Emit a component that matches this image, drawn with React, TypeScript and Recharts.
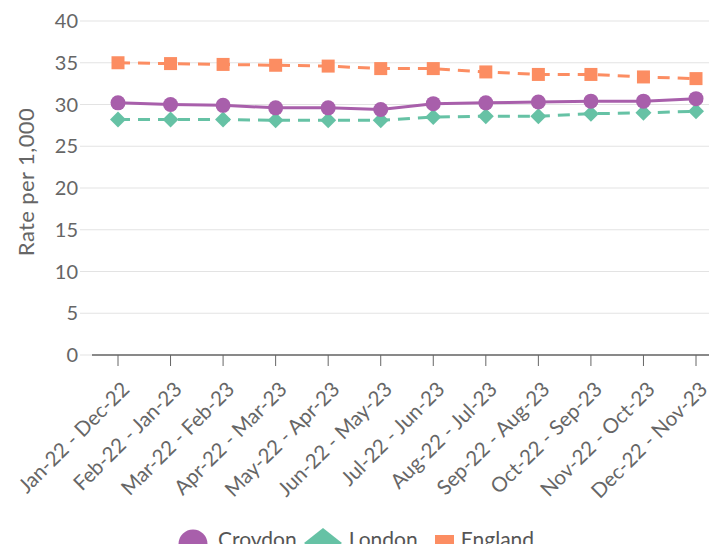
import { LineChart, Line, XAxis, YAxis, CartesianGrid } from "recharts";

const periods = [
  "Jan-22 - Dec-22",
  "Feb-22 - Jan-23",
  "Mar-22 - Feb-23",
  "Apr-22 - Mar-23",
  "May-22 - Apr-23",
  "Jun-22 - May-23",
  "Jul-22 - Jun-23",
  "Aug-22 - Jul-23",
  "Sep-22 - Aug-23",
  "Oct-22 - Sep-23",
  "Nov-22 - Oct-23",
  "Dec-22 - Nov-23",
];

const croydon = [30.2, 30.0, 29.9, 29.6, 29.6, 29.4, 30.1, 30.2, 30.3, 30.4, 30.4, 30.7];
const london = [28.2, 28.2, 28.2, 28.1, 28.1, 28.1, 28.5, 28.6, 28.6, 28.9, 29.0, 29.2];
const england = [35.0, 34.9, 34.8, 34.7, 34.6, 34.3, 34.3, 33.9, 33.6, 33.6, 33.3, 33.1];

const yTicks = [0, 5, 10, 15, 20, 25, 30, 35, 40];

const COLORS = {
  croydon: "#a85fab",
  london: "#66c2a5",
  england: "#fc8d62",
  text: "#666666",
  grid: "#e3e3e3",
};

const FONT = "Lato, 'Open Sans', sans-serif";

const data = periods.map((period, i) => ({
  period,
  croydon: croydon[i],
  london: london[i],
  england: england[i],
}));

interface TickProps {
  x?: number;
  y?: number;
  payload?: { value: string };
}

const XTick = ({ x = 0, y = 0, payload }: TickProps) => (
  <g transform={`translate(${x + 2},${y + 12})`}>
    <text
      x={0}
      y={0}
      dy={15}
      textAnchor="end"
      fill={COLORS.text}
      fontSize={20.5}
      fontFamily={FONT}
      transform="rotate(-45)"
    >
      {payload?.value}
    </text>
  </g>
);

// y axis title, placed by hand like the original
const YTitle = () => (
  <text
    x={25}
    y={182}
    transform="rotate(-90, 25, 182)"
    textAnchor="middle"
    dominantBaseline="central"
    fill={COLORS.text}
    fontSize={22}
    letterSpacing={0.4}
    fontFamily={FONT}
  >
    Rate per 1,000
  </text>
);

// marker shapes
const Diamond = ({ cx, cy, fill }: { cx?: number; cy?: number; fill: string }) => {
  if (cx == null || cy == null) return null;
  const r = 8;
  return <path d={`M${cx},${cy - r}L${cx + r},${cy}L${cx},${cy + r}L${cx - r},${cy}Z`} fill={fill} />;
};

const Square = ({ cx, cy, fill }: { cx?: number; cy?: number; fill: string }) => {
  if (cx == null || cy == null) return null;
  const s = 13;
  return <rect x={cx - s / 2} y={cy - s / 2} width={s} height={s} fill={fill} />;
};

const LegendRow = () => (
  <div
    style={{
      position: "absolute",
      top: 524,
      left: 178,
      display: "flex",
      alignItems: "center",
      fontFamily: FONT,
      fontSize: 21,
      lineHeight: "30px",
      color: "#555",
      whiteSpace: "nowrap",
    }}
  >
    <svg width={30} height={30} style={{ marginRight: 10, position: "relative", top: 5 }}>
      <circle cx={15} cy={15} r={14.5} fill={COLORS.croydon} />
    </svg>
    <span style={{ marginRight: 7 }}>Croydon</span>
    <svg width={38} height={30} style={{ marginRight: 7, position: "relative", top: 4 }}>
      <path d="M19,0L38,15L19,30L0,15Z" fill={COLORS.london} />
    </svg>
    <span style={{ marginRight: 17 }}>London</span>
    <svg width={19} height={19} style={{ marginRight: 7, position: "relative", top: 5 }}>
      <rect x={0} y={0} width={19} height={19} fill={COLORS.england} />
    </svg>
    <span>England</span>
  </div>
);

export default function App() {
  return (
    <div style={{ position: "relative", width: 717, height: 552, margin: -8, overflow: "hidden", background: "#fff" }}>
      <LineChart
        width={730}
        height={552}
        data={data}
        margin={{ top: 21, right: 8, left: 0, bottom: 50 }}
      >
        <CartesianGrid stroke={COLORS.grid} vertical={false} />
        <XAxis
          dataKey="period"
          interval={0}
          height={147}
          padding={{ left: 26, right: 26 }}
          tick={(props: TickProps) => <XTick {...props} />}
          tickLine={{ stroke: COLORS.text }}
          tickSize={11}
          axisLine={{ stroke: COLORS.text, strokeWidth: 1.5 }}
        />
        <YAxis
          domain={[0, 40]}
          ticks={yTicks}
          width={92}
          tickSize={12}
          tickLine={{ stroke: COLORS.grid }}
          axisLine={false}
          tick={{ fill: COLORS.text, fontSize: 20, fontFamily: FONT }}
          label={<YTitle />}
        />
        <Line
          dataKey="england"
          stroke={COLORS.england}
          strokeWidth={3}
          strokeDasharray="12 8"
          dot={<Square fill={COLORS.england} />}
          isAnimationActive={false}
        />
        <Line
          dataKey="london"
          stroke={COLORS.london}
          strokeWidth={3}
          strokeDasharray="12 8"
          dot={<Diamond fill={COLORS.london} />}
          isAnimationActive={false}
        />
        <Line
          dataKey="croydon"
          stroke={COLORS.croydon}
          strokeWidth={3}
          dot={{ r: 7.5, fill: COLORS.croydon, stroke: COLORS.croydon, strokeWidth: 0 }}
          isAnimationActive={false}
        />
      </LineChart>
      <LegendRow />
    </div>
  );
}
